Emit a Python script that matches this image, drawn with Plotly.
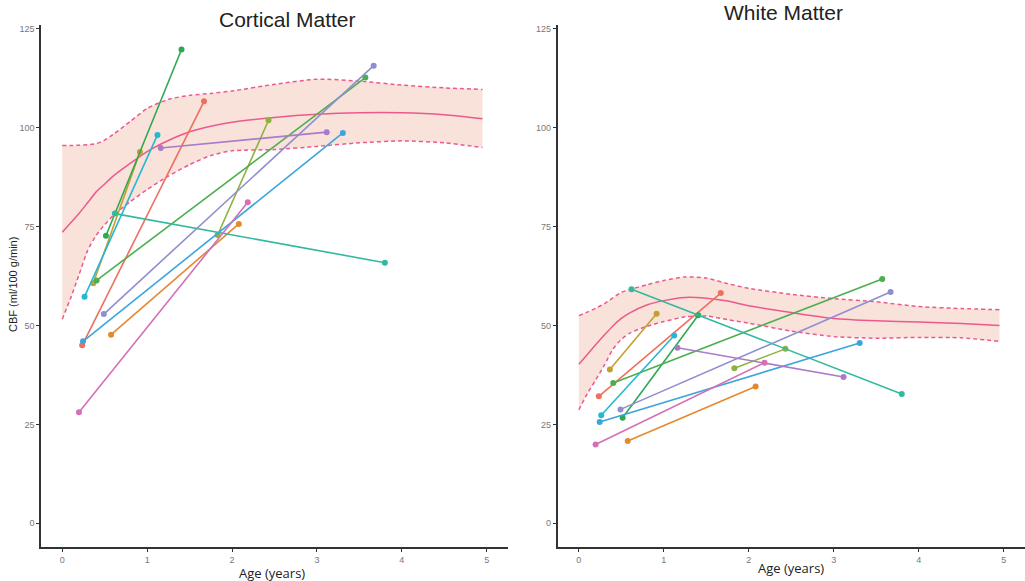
import plotly.graph_objects as go

# ---- subject data (start/end ages in years) ----
subjects = ["S1", "S2", "S3", "S4", "S5", "S6", "S7", "S8", "S9", "S10", "S11", "S12"]
colors = ["#EF6F5E", "#E5892F", "#C2A02E", "#8EB13F", "#2FA855", "#4BAF4F",
          "#33B9A0", "#26B7D3", "#3CA5DD", "#8F8FD0", "#A97BCB", "#D470B8"]
age_start = [0.235, 0.575, 0.365, 1.83, 0.515, 0.405, 0.62, 0.263, 0.245, 0.49, 1.16, 0.197]
age_end = [1.67, 2.08, 0.915, 2.43, 1.405, 3.57, 3.80, 1.122, 3.305, 3.668, 3.115, 2.185]

cortical_start = [45.0, 47.7, 60.7, 72.9, 72.7, 61.4, 78.3, 57.3, 46.0, 52.9, 94.9, 28.1]
cortical_end = [106.7, 75.7, 93.9, 101.9, 119.8, 112.7, 65.9, 98.2, 98.7, 115.7, 98.9, 81.2]

white_start = [32.1, 20.8, 38.9, 39.2, 26.7, 35.5, 59.2, 27.3, 25.6, 28.8, 44.4, 19.9]
white_end = [58.2, 34.6, 53.0, 44.1, 52.6, 61.8, 32.7, 47.5, 45.6, 58.5, 37.0, 40.6]

# ---- fitted curve and band ----
fit_age = [0, 0.1, 0.2, 0.3, 0.4, 0.5, 0.6, 0.8, 1.0, 1.25, 1.5, 1.75, 2.0, 2.5, 3.0, 3.5, 4.0, 4.5, 4.95]
cort_mean = [73.6, 76.0, 78.4, 81.1, 83.8, 85.8, 87.8, 91.0, 94.0, 96.8, 99.0, 100.4, 101.4, 102.6, 103.4, 103.8, 103.8, 103.3, 102.3]
cort_upper = [95.5, 95.5, 95.6, 95.7, 96.0, 96.9, 98.3, 101.6, 104.9, 107.2, 108.2, 108.7, 109.3, 111.0, 112.3, 111.8, 110.8, 110.1, 109.7]
cort_lower = [51.6, 57.0, 63.0, 69.0, 72.8, 75.5, 77.8, 81.3, 84.4, 87.8, 90.7, 93.0, 94.2, 94.5, 95.3, 96.2, 96.7, 96.2, 95.0]

white_mean = [40.2, 42.7, 45.2, 47.6, 49.9, 51.8, 53.2, 55.2, 56.3, 57.1, 56.9, 56.2, 55.0, 53.3, 51.8, 51.2, 50.9, 50.5, 50.0]
white_upper = [52.5, 53.4, 54.4, 55.5, 57.0, 58.4, 59.1, 60.3, 61.4, 62.3, 62.0, 60.6, 59.4, 57.9, 56.8, 56.0, 54.8, 54.3, 54.0]
white_lower = [28.7, 32.8, 36.3, 40.0, 44.0, 46.5, 48.1, 49.8, 51.0, 52.2, 52.4, 51.5, 50.6, 48.6, 47.2, 46.8, 47.0, 46.9, 46.0]

x_ticks = [0, 1, 2, 3, 4, 5]
y_ticks = [0, 25, 50, 75, 100, 125]

BAND = "rgba(246,214,202,0.7)"
FIT = "#EC5A8D"

fig = go.Figure()


def add_panel(xa, ya, mean, upper, lower, start, end):
    fig.add_trace(go.Scatter(x=fit_age, y=upper, mode="lines", xaxis=xa, yaxis=ya,
                             line=dict(color=FIT, width=1.5, dash="4px,3px", shape="spline", smoothing=0.6),
                             showlegend=False, hoverinfo="skip"))
    fig.add_trace(go.Scatter(x=fit_age, y=lower, mode="lines", xaxis=xa, yaxis=ya, fill="tonexty",
                             fillcolor=BAND,
                             line=dict(color=FIT, width=1.5, dash="4px,3px", shape="spline", smoothing=0.6),
                             showlegend=False, hoverinfo="skip"))
    fig.add_trace(go.Scatter(x=fit_age, y=mean, mode="lines", xaxis=xa, yaxis=ya,
                             line=dict(color=FIT, width=1.5, shape="spline", smoothing=0.6),
                             showlegend=False))
    for i, s in enumerate(subjects):
        fig.add_trace(go.Scatter(x=[age_start[i], age_end[i]], y=[start[i], end[i]],
                                 mode="lines+markers", xaxis=xa, yaxis=ya, name=s,
                                 line=dict(color=colors[i], width=1.6),
                                 marker=dict(color=colors[i], size=6),
                                 showlegend=False))


add_panel("x", "y", cort_mean, cort_upper, cort_lower, cortical_start, cortical_end)
add_panel("x2", "y2", white_mean, white_upper, white_lower, white_start, white_end)

axis_common = dict(showgrid=False, zeroline=False, showline=True, linecolor="#333333", linewidth=1.5,
                   ticks="outside", ticklen=3, tickwidth=1, tickcolor="#333333",
                   tickfont=dict(family="Liberation Sans, Arial, sans-serif", size=9, color="#777777"))

fig.update_layout(
    width=1025, height=581, autosize=False,
    margin=dict(l=0, r=0, t=0, b=0),
    paper_bgcolor="white", plot_bgcolor="white",
    xaxis=dict(domain=[0.04, 0.4956], range=[-0.25, 5.25], tickvals=x_ticks, anchor="y", **axis_common),
    yaxis=dict(domain=[0.0585, 0.957], range=[-6, 126], tickvals=y_ticks, anchor="x", **axis_common),
    xaxis2=dict(domain=[0.544, 1.0], range=[-0.25, 5.25], tickvals=x_ticks, anchor="y2", **axis_common),
    yaxis2=dict(domain=[0.0585, 0.957], range=[-6, 126], tickvals=y_ticks, anchor="x2", **axis_common),
    annotations=[
        dict(text="Cortical Matter", x=287 / 1025, y=1 - 19 / 581, xref="paper", yref="paper",
             showarrow=False, xanchor="center", yanchor="middle",
             font=dict(family="Liberation Sans, Arial, sans-serif", size=21, color="#222222")),
        dict(text="White Matter", x=783 / 1025, y=1 - 13 / 581, xref="paper", yref="paper",
             showarrow=False, xanchor="center", yanchor="middle",
             font=dict(family="Liberation Sans, Arial, sans-serif", size=21, color="#222222")),
        dict(text="Age (years)", x=272 / 1025, y=1 - 573 / 581, xref="paper", yref="paper",
             showarrow=False, xanchor="center", yanchor="middle",
             font=dict(family="Open Sans, sans-serif", size=13, color="#222222")),
        dict(text="Age (years)", x=791 / 1025, y=1 - 568 / 581, xref="paper", yref="paper",
             showarrow=False, xanchor="center", yanchor="middle",
             font=dict(family="Open Sans, sans-serif", size=13, color="#222222")),
        dict(text="CBF (ml/100 g/min)", x=13 / 1025, y=1 - 285 / 581, xref="paper", yref="paper",
             showarrow=False, xanchor="center", yanchor="middle", textangle=-90,
             font=dict(family="Liberation Sans, Arial, sans-serif", size=11, color="#222222")),
    ],
)

fig.write_html("out.html")
